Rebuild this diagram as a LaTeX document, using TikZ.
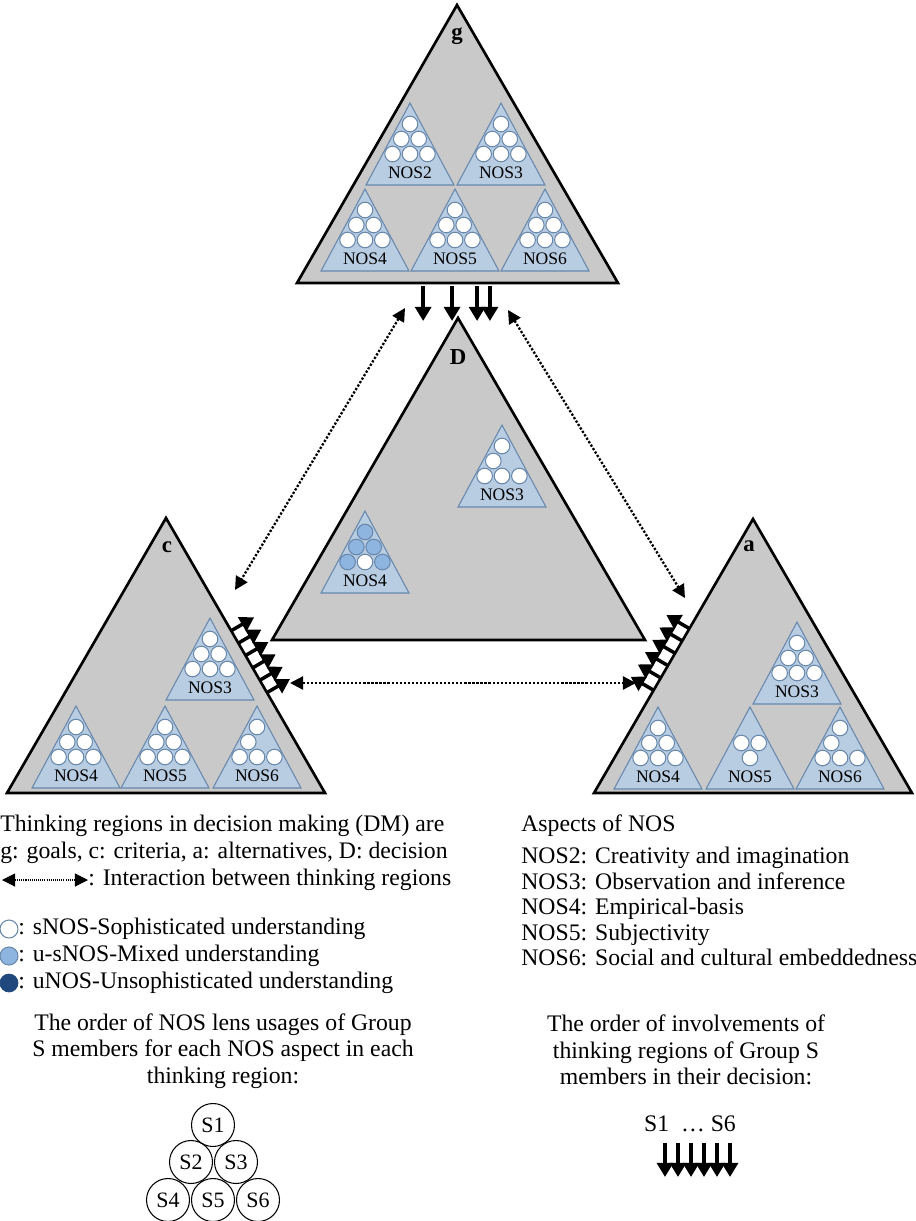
\documentclass[tikz,border=0pt]{standalone}
\usepackage{fontspec}
\setmainfont{Liberation Serif}
\usetikzlibrary{arrows.meta,positioning,calc}

\definecolor{regiongray}{RGB}{201,201,201}
\definecolor{nosblue}{RGB}{184,204,226}
\definecolor{nosedge}{RGB}{104,136,172}
\definecolor{mixblue}{RGB}{142,180,224}
\definecolor{darkblue}{RGB}{31,73,125}

\newcommand{\legendfont}{\fontsize{13.5}{15}\selectfont}

% small NOS triangle: apex x, apex y, label, circles (k/colour)
\newcommand{\nostri}[4]{%
  \begin{scope}[shift={(#1,#2)}]
    \draw[nosbox] (0,0) -- (-44,82) -- (44,82) -- cycle;
    \coordinate (s1) at (0,21);
    \coordinate (s2) at (-8.7,36);
    \coordinate (s3) at (8.7,36);
    \coordinate (s4) at (-17.4,51);
    \coordinate (s5) at (0,51);
    \coordinate (s6) at (17.4,51);
    \foreach \k/\f in {#4} \draw[sdot,fill=\f] (s\k) circle (7.8);
    \node[noslabel] at (0,70) {#3};
  \end{scope}}

\begin{document}
\begin{tikzpicture}[x=0.02cm,y=-0.02cm,
  region/.style={draw=black,line width=1.5pt,fill=regiongray},
  nosbox/.style={draw=nosedge,fill=nosblue,line width=0.6pt},
  sdot/.style={draw=nosedge,line width=0.6pt},
  noslabel/.style={inner sep=0pt,font=\fontsize{10}{10}\selectfont},
  rlabel/.style={inner sep=0pt,font=\bfseries\fontsize{13}{13}\selectfont},
  push/.style={line width=2pt,-{Triangle[width=9pt,length=8pt]}},
  interact/.style={line width=1.3pt,dash pattern=on 1.3pt off 1pt,
    {Triangle[width=7.5pt,length=7.5pt]}-{Triangle[width=7.5pt,length=7.5pt]}},
  legend/.style={anchor=base west,inner sep=0pt,font=\legendfont},
  caption/.style={align=center,inner sep=0pt,font=\fontsize{13.5}{15}\selectfont},
  member/.style={draw,circle,line width=0.6pt,minimum size=0.86cm,inner sep=0pt,
    font=\fontsize{12.5}{12.5}\selectfont}]
  \useasboundingbox (0,0) rectangle (916,1221);

  % thinking regions
  \coordinate (gtop) at (457,5);
  \coordinate (gleft) at (297,283);
  \coordinate (gright) at (618,283);
  \coordinate (dtop) at (458,318);
  \coordinate (dleft) at (272,640);
  \coordinate (dright) at (645,640);
  \coordinate (ctop) at (166,518);
  \coordinate (cleft) at (7,793);
  \coordinate (cright) at (325,793);
  \coordinate (atop) at (753,519);
  \coordinate (aleft) at (594,793);
  \coordinate (aright) at (912,793);
  \draw[region] (gtop) -- (gleft) -- (gright) -- cycle;
  \draw[region] (dtop) -- (dleft) -- (dright) -- cycle;
  \draw[region] (ctop) -- (cleft) -- (cright) -- cycle;
  \draw[region] (atop) -- (aleft) -- (aright) -- cycle;
  \node[rlabel] (glab) at (457,36) {g};
  \node[rlabel] (dlab) at (458,357) {D};
  \node[rlabel] (clab) at (167,547) {c};
  \node[rlabel] (alab) at (749,546) {a};

  % NOS aspects in g
  \nostri{410}{103}{NOS2}{1/white,2/white,3/white,4/white,5/white,6/white}
  \nostri{501}{103}{NOS3}{1/white,2/white,3/white,4/white,5/white,6/white}
  \nostri{365}{189}{NOS4}{1/white,2/white,3/white,4/white,5/white,6/white}
  \nostri{455}{189}{NOS5}{1/white,2/white,3/white,4/white,5/white,6/white}
  \nostri{545}{189}{NOS6}{1/white,2/white,3/white,4/white,5/white,6/white}
  % NOS aspects in D
  \nostri{502}{425}{NOS3}{1/white,2/white,4/white,5/white,6/white}
  \nostri{365}{511}{NOS4}{1/mixblue,2/mixblue,3/mixblue,4/mixblue,5/white,6/mixblue}
  % NOS aspects in c
  \nostri{210}{618}{NOS3}{1/white,2/white,3/white,4/white,5/white,6/white}
  \nostri{76}{706}{NOS4}{1/white,2/white,3/white,4/white,5/white,6/white}
  \nostri{165}{706}{NOS5}{1/white,2/white,3/white,4/white,5/white,6/white}
  \nostri{257}{706}{NOS6}{1/white,2/white,4/white,5/white,6/white}
  % NOS aspects in a
  \nostri{797}{622}{NOS3}{1/white,2/white,3/white,4/white,5/white,6/white}
  \nostri{658}{707}{NOS4}{1/white,2/white,3/white,4/white,5/white,6/white}
  \nostri{750}{707}{NOS5}{2/white,3/white,5/white}
  \nostri{840}{707}{NOS6}{1/white,2/white,4/white,5/white,6/white}

  % involvement arrows
  \foreach \t in {0.393,0.483,0.561,0.601}
    \draw[push] ($(gleft)!\t!(gright)+(0,3)$) -- ++(0,35);
  \foreach \t in {0.41,0.455,0.5,0.545,0.59,0.635}
    \draw[push] ($(ctop)!\t!(cright)$) -- ++(23,-13.5);
  \foreach \t in {0.40,0.445,0.49,0.535,0.58,0.625}
    \draw[push] ($(atop)!\t!(aleft)$) -- ++(-23,-13.5);

  % interactions
  \coordinate (gc) at (405,308);
  \coordinate (cg) at (235,590);
  \coordinate (ga) at (508,310);
  \coordinate (ag) at (685,598);
  \coordinate (ca) at (290,683);
  \coordinate (ac) at (636,683);
  \draw[interact] (gc) -- (cg);
  \draw[interact] (ga) -- (ag);
  \draw[interact] (ca) -- (ac);

  % legend left
  \node[legend] (leg1) at (0,831) {Thinking regions in decision making (DM) are};
  \node[legend] (leg2) at (0,858) {g: goals, c: criteria, a: alternatives, D: decision};
  \coordinate (keya) at (2,880);
  \coordinate (keyb) at (88,880);
  \draw[interact,line width=0.6pt,dash pattern=on 0.6pt off 0.6pt] (keya) -- (keyb);
  \node[legend] (leg3) at (88,885) {: Interaction between thinking regions};
  \draw[sdot,fill=white] (9,929) circle (9);
  \node[legend] (leg4) at (18,934) {: sNOS-Sophisticated understanding};
  \draw[sdot,fill=mixblue] (9,956) circle (9);
  \node[legend] (leg5) at (18,961) {: u-sNOS-Mixed understanding};
  \draw[draw=darkblue,fill=darkblue] (9,983) circle (9);
  \node[legend] (leg6) at (18,988) {: uNOS-Unsophisticated understanding};

  % legend right
  \begin{scope}[every node/.append style={font=\fontsize{12.8}{15}\selectfont}]
  \node[legend] (asp) at (521,831) {Aspects of NOS};
  \node[legend] (nos2) at (521,863) {NOS2: Creativity and imagination};
  \node[legend] (nos3) at (521,889) {NOS3: Observation and inference};
  \node[legend] (nos4) at (521,914) {NOS4: Empirical-basis};
  \node[legend] (nos5) at (521,940) {NOS5: Subjectivity};
  \node[legend] (nos6) at (521,965) {NOS6: Social and cultural embeddedness};
  \end{scope}

  % order of lens usages
  \node[caption] (lcap) at (223,1051) {The order of NOS lens usages of Group\\S members for each NOS aspect in each\\thinking region:};
  \node[member] (m1) at (213,1125) {S1};
  \node[member] (m2) at (191,1162) {S2};
  \node[member] (m3) at (236,1162) {S3};
  \node[member] (m4) at (168,1200) {S4};
  \node[member] (m5) at (213,1200) {S5};
  \node[member] (m6) at (258,1200) {S6};

  % order of involvements
  \node[caption] (rcap) at (686,1050) {The order of involvements of\\thinking regions of Group S\\members in their decision:};
  \node[caption] (order) at (690,1124) {S1\ \ … S6};
  \coordinate (arr) at (665,1143);
  \foreach \i in {0,...,5}
    \draw[push] ($(arr)+(\i*13,0)$) -- ++(0,34);
\end{tikzpicture}
\end{document}
